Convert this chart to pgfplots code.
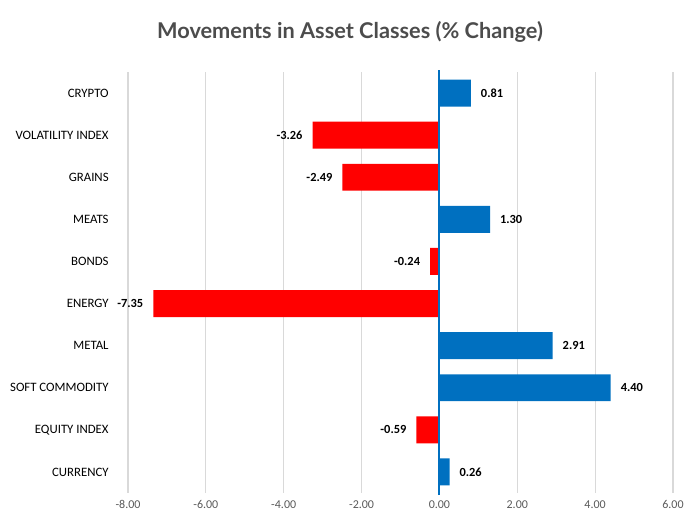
\documentclass[border=0pt]{standalone}
\usepackage{pgfplots}
\pgfplotsset{compat=1.18}
\usetikzlibrary{calc}
\usepackage{fontspec}
\setmainfont{Carlito}
\newfontfamily\titlefont{Lato}
\definecolor{barblue}{HTML}{0070C0}
\definecolor{barred}{HTML}{FF0000}
\definecolor{gridgray}{HTML}{D9D9D9}
\definecolor{txtgray}{HTML}{595959}
\begin{document}
\begin{tikzpicture}[x=0.75pt,y=0.75pt]
\begin{axis}[
    name=ax,
    scale only axis,
    width=408.75pt, height=315.75pt,
    xbar, bar shift=0pt, bar width=0.64,
    xmin=-8, xmax=6,
    ymin=-0.5, ymax=9.5,
    xtick={-8,-6,...,6},
    ytick={0,...,9},
    yticklabels={CURRENCY,EQUITY INDEX,SOFT COMMODITY,METAL,ENERGY,BONDS,MEATS,GRAINS,VOLATILITY INDEX,CRYPTO},
    xticklabel style={font=\fontsize{9}{10}\selectfont, text=txtgray,
        /pgf/number format/fixed, /pgf/number format/fixed zerofill,
        /pgf/number format/precision=2, /pgf/number format/assume math mode=true},
    yticklabel style={font=\fontsize{9.6}{11}\selectfont, text=black, xshift=-11pt},
    xticklabel shift=2pt,
    xmajorgrids, major grid style={gridgray, line width=0.8pt},
    axis line style={draw=none},
    major tick length=0pt,
    nodes near coords,
    nodes near coords style={font=\bfseries\fontsize{9.3}{10}\selectfont, text=black,
        /pgf/number format/fixed, /pgf/number format/fixed zerofill,
        /pgf/number format/precision=2, /pgf/number format/assume math mode=true},
    clip=false,
]
\addplot[fill=barblue, draw=none,
    nodes near coords style={anchor=west, xshift=4pt}]
  coordinates {(0.81,9) (1.30,6) (2.91,3) (4.40,2) (0.26,0)};
\addplot[fill=barred, draw=none,
    nodes near coords style={anchor=east, xshift=-4pt}]
  coordinates {(-3.26,8) (-2.49,7) (-0.24,5) (-7.35,4) (-0.59,1)};
\draw[barblue, line width=1.5pt] (axis cs:0,-0.55) -- (axis cs:0,9.55);
\end{axis}
\pgfresetboundingbox
\path (ax.south west) ++(-128,-36) coordinate (bl);
\path (bl) ++(694,529) coordinate (tr);
\path (bl) rectangle (tr);
\node[font=\titlefont\bfseries\fontsize{16.3}{19}\selectfont, text=txtgray!85!black] at ($(bl)+(350,497)$) {Movements in Asset Classes (\% Change)};
\end{tikzpicture}
\end{document}
